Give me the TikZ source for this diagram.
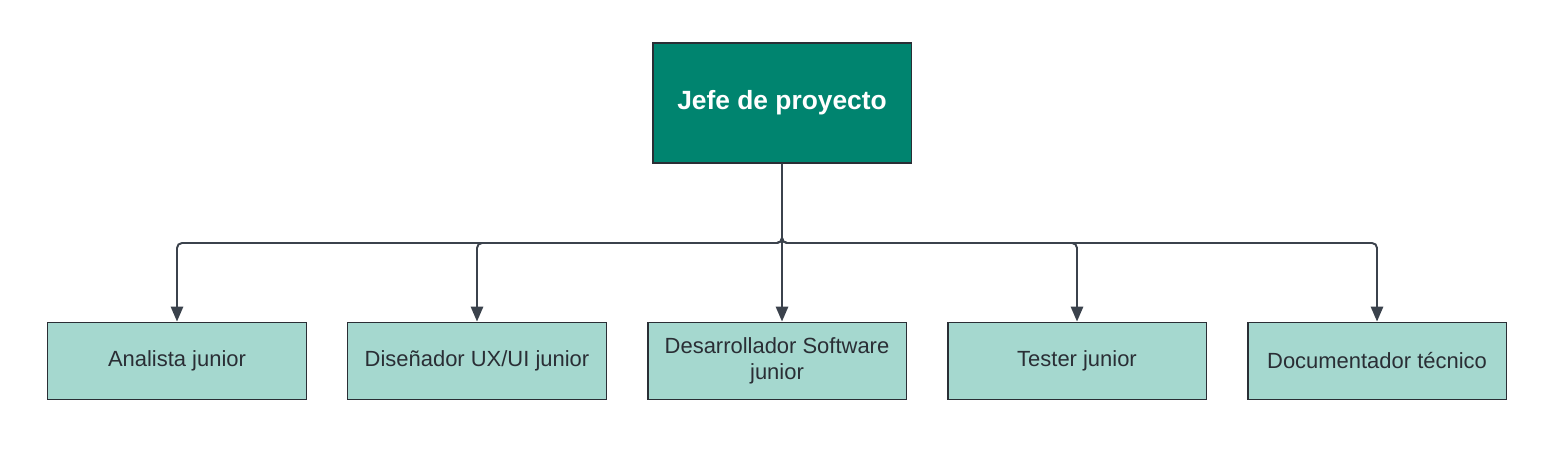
\documentclass[tikz,border=0pt]{standalone}
\usepackage{fontspec}
\setmainfont{Liberation Sans}
\usetikzlibrary{arrows.meta}
\definecolor{jefe}{HTML}{00846F}
\definecolor{puesto}{HTML}{A5D8CF}
\definecolor{borde}{HTML}{2A2E35}
\definecolor{linea}{HTML}{3B424C}

\begin{document}
\begin{tikzpicture}[x=0.02cm,y=-0.02cm,font=\fontsize{12.5}{14.8}\selectfont,
    jefebox/.style={draw=borde,line width=1.1pt,fill=jefe,text=white,minimum width=5.18cm,minimum height=2.4cm,font=\bfseries\fontsize{15}{18}\selectfont},
    puestobox/.style={draw=borde,line width=1.1pt,fill=puesto,text=borde,minimum width=5.18cm,minimum height=1.54cm,align=center},
    conector/.style={draw=linea,line width=1.1pt,-{Triangle[length=8.5pt,width=7pt]}}]
            \useasboundingbox (0,0) rectangle (1554,465);
            \node[jefebox] (J) at (782,103) {Jefe de proyecto} ;
            \foreach \t [count=\n] in {Analista junior, Diseñador UX/UI junior, {Desarrollador Software\\junior}, Tester junior, Documentador técnico} {
                \node[puestobox] (P\n) at (\n*300-123, 361) {\t} ;
            }
            \coordinate (bus) at (782,243) ;
            \foreach \n in {1,2,4,5} {
                \draw [conector,rounded corners=0.1cm] (J.south) -- (J.south |- bus) -| (P\n.north) ;
            }
            \draw [conector] (J.south) -- (J.south |- P3.north) ;
        \end{tikzpicture}
\end{document}
